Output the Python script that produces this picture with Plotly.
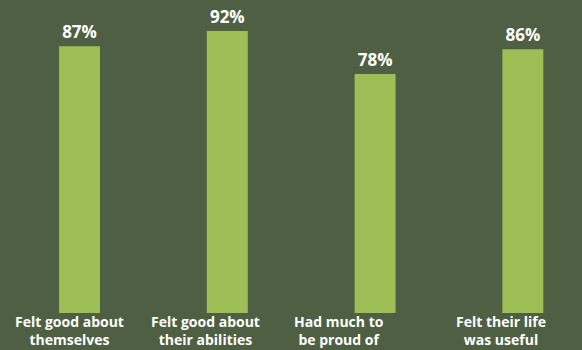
import plotly.graph_objects as go

categories = ["Felt good about<br>themselves", "Felt good about<br>their abilities",
              "Had much to<br>be proud of", "Felt their life<br>was useful"]
values = [87, 92, 78, 86]
value_labels = ["87%", "92%", "78%", "86%"]

label_shift = [-10, -22, -36, -22]

xs = list(range(len(categories)))

fig = go.Figure(go.Bar(
    x=xs, y=values, width=0.277,
    marker=dict(color="#9dbf56", line=dict(width=0)),
    text=value_labels, textposition="outside", cliponaxis=False,
    textfont=dict(family="Open Sans", size=17, color="white", weight="bold"),
))

for x, c, s in zip(xs, categories, label_shift):
    fig.add_annotation(x=x, y=0, yref="y", xref="x", text=c, showarrow=False,
                       yanchor="top", yshift=2, xshift=s, borderpad=0,
                       font=dict(family="Open Sans", size=14, color="white", weight="bold"),
                       align="center")

fig.update_layout(
    width=582, height=350,
    margin=dict(l=0, r=0, t=0, b=37),
    paper_bgcolor="#4e5f43", plot_bgcolor="#4e5f43",
    showlegend=False,
    xaxis=dict(range=[-0.538, 3.40], showgrid=False, zeroline=False, showticklabels=False, fixedrange=True),
    yaxis=dict(range=[0, 102.1], showgrid=False, zeroline=False, showticklabels=False, fixedrange=True),
)

fig.write_html("out.html", config={"displayModeBar": False},
               post_script="document.body.style.margin='0';document.body.style.overflow='hidden';")
